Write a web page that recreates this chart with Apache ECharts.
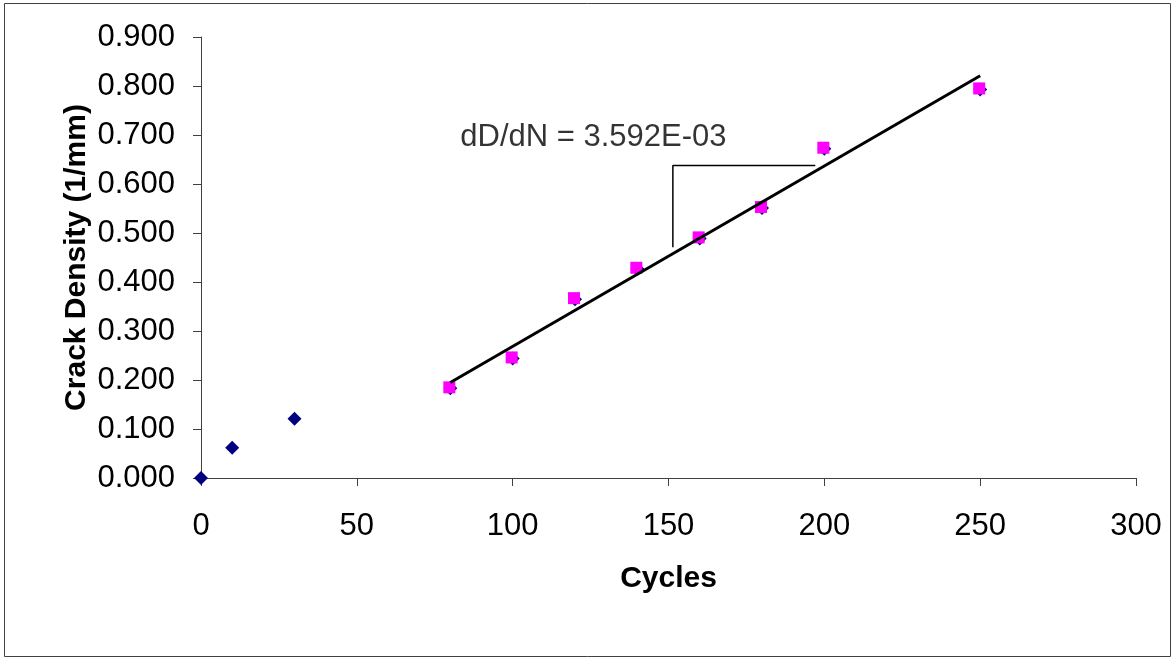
<!DOCTYPE html>
<html><head><meta charset="utf-8">
<script src="https://cdn.jsdelivr.net/npm/echarts@6/dist/echarts.min.js"></script>
<style>html,body{margin:0;padding:0;background:#fff}#c{width:1176px;height:666px}</style>
</head><body><div id="c"></div>
<script>
// Data
const cyclesAll = [0, 10, 30, 80, 100, 120, 140, 160, 180, 200, 250];
const densityAll = [0.000, 0.0616, 0.121, 0.183, 0.244, 0.365, 0.427, 0.489, 0.551, 0.672, 0.793];
const cyclesFit = [80, 100, 120, 140, 160, 180, 200, 250];
const densityFit = [0.183, 0.244, 0.365, 0.427, 0.489, 0.551, 0.672, 0.793];
const trendX = [80, 250];
const trendY = [0.195, 0.821];
const slopeX = [151.4, 151.4, 197.1];
const slopeY = [0.471, 0.638, 0.638];
const annotationText = 'dD/dN = 3.592E-03';
const annotationPos = [125.9, 0.695];
const xTicks = {min: 0, max: 300, interval: 50};
const yTicks = {min: 0, max: 0.9, interval: 0.1};

const zip = (a, b) => a.map((v, i) => [v, b[i]]);
const font = '"Liberation Sans", Arial, sans-serif';

const chart = echarts.init(document.getElementById('c'));
chart.setOption({
  animation: false,
  backgroundColor: '#fff',
  grid: {left: 201, right: 40, top: 37, bottom: 188},
  graphic: [{
    type: 'rect', shape: {x: 4.5, y: 3.5, width: 1166, height: 653},
    style: {fill: 'none', stroke: '#404040', lineWidth: 1}, silent: true, z: -1
  }],
  xAxis: {
    type: 'value', min: xTicks.min, max: xTicks.max, interval: xTicks.interval,
    name: 'Cycles', nameLocation: 'middle', nameGap: 86,
    nameTextStyle: {fontFamily: font, fontSize: 30, fontWeight: 'bold', color: '#000'},
    axisLine: {show: true, lineStyle: {color: '#404040', width: 1}},
    axisTick: {show: true, inside: false, length: 8, lineStyle: {color: '#404040'}},
    axisLabel: {fontFamily: font, fontSize: 31, color: '#000', margin: 33},
    splitLine: {show: false}
  },
  yAxis: {
    type: 'value', min: yTicks.min, max: yTicks.max, interval: yTicks.interval,
    name: 'Crack Density (1/mm)', nameLocation: 'middle', nameGap: 109, nameRotate: 90,
    nameMoveOverlap: false,
    nameTextStyle: {fontFamily: font, fontSize: 30, fontWeight: 'bold', color: '#000'},
    axisLine: {show: true, lineStyle: {color: '#404040', width: 1}},
    axisTick: {show: true, inside: false, length: 8, lineStyle: {color: '#404040'}},
    axisLabel: {fontFamily: font, fontSize: 31, color: '#000', margin: 26,
      formatter: v => v.toFixed(3)},
    splitLine: {show: false}
  },
  series: [
    {
      type: 'scatter', data: zip(cyclesAll, densityAll),
      symbol: 'diamond', symbolSize: 14,
      itemStyle: {color: '#000080', opacity: 1}, z: 2
    },
    {
      type: 'scatter', data: zip(cyclesFit, densityFit),
      symbol: 'rect', symbolSize: 12, symbolOffset: [-1, -1],
      itemStyle: {color: '#FF00FF', opacity: 1}, z: 3
    },
    {
      type: 'line', data: zip(trendX, trendY), symbol: 'none',
      lineStyle: {color: '#000', width: 3}, z: 4
    },
    {
      type: 'line', data: zip(slopeX, slopeY), symbol: 'none',
      lineStyle: {color: '#000', width: 1.5}, z: 4
    },
    {
      type: 'scatter', data: [annotationPos], symbolSize: 0, z: 5,
      label: {show: true, position: 'inside', formatter: annotationText,
        fontFamily: font, fontSize: 31, color: '#000'}
    }
  ]
});
</script></body></html>
